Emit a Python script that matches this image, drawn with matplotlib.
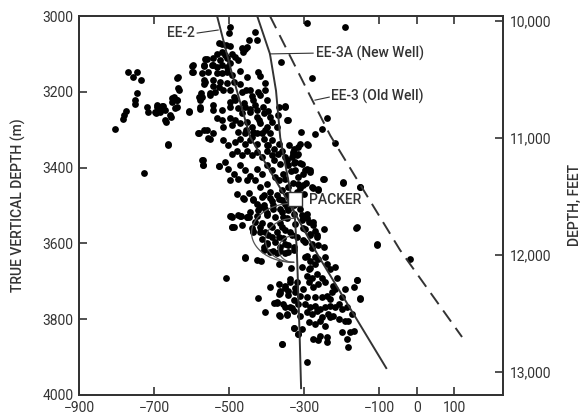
import matplotlib.pyplot as plt
import numpy as np

plt.rcParams['font.family'] = ['Roboto', 'DejaVu Sans']

# microseismic event locations: (horizontal offset m, true vertical depth m)
events_x = [
    -770, -746, -755, -735, -746, -752, -751, -775, -780, -784, -804, -726,
    -720, -715, -693, -675, -671, -695, -669, -653, -655, -640, -640, -640,
    -633, -607, -662, -577, -580, -568, -555, -571, -570, -526, -597, -600,
    -568, -564, -544, -567, -567, -579, -575, -542, -550,
    -500, -497, -431, -426, -446, -528, -520, -508, -497, -466, -457, -453,
    -462, -533, -520, -511, -493, -484, -542, -524, -506, -475, -560, -568,
    -546, -533, -520, -506, -497, -595, -600, -573, -555, -533, -520, -506,
    -493, -472, -453, -422, -417, -635, -542, -564, -524, -506, -488, -404,
    -635, -528, -515, -537, -551, -573, -577, -497, -488, -466, -444, -422,
    -404, -417, -399, -435, -648, -653, -640, -608, -577, -543, -542, -520,
    -497, -484, -497, -475, -457, -466, -444, -426, -426, -408, -391, -693,
    -680, -688, -697, -684, -671, -657, -644, -533, -520, -497, -484, -515,
    -493, -471, -453, -439, -417, -399, -386, -582, -560, -542, -475, -457,
    -435, -413,
    -662, -552, -570, -570, -526, -515, -502, -484, -471, -457, -444, -426,
    -408, -399, -386, -511, -493, -479, -466, -453, -439, -426, -413, -399,
    -386, -502, -488, -471, -457, -444, -426, -413, -399, -386, -377, -497,
    -475, -453, -431, -417, -399, -391, -408, -478, -460, -435, -426, -417,
    -404, -386, -382, -496, -471, -448, -426, -399, -491, -435, -417, -404,
    -386, -413, -399, -386, -408, -382,
    -293, -191, -361, -278, -368, -351, -370, -344, -240, -253, -271, -308,
    -373, -290, -315, -320, -311, -297, -284, -346, -351, -330, -328, -250,
    -195, -151, -277, -264,
    -217, -293, -311, -328, -315, -333, -324, -306, -293, -284, -302, -315,
    -324, -342, -351, -360, -368, -364, -355, -368, -248, -195, -280, -262,
    -151, -302, -315, -342, -360, -346, -368, -351, -364, -342, -355, -328,
    -311, -293, -306, -324, -288, -275, -297, -271, -248, -284, -266, -302,
    -280, -262, -248, -320, -337, -360, -368, -351, -328, -364, -342, -160,
    -106,
    -457, -415, -508, -391, -424, -380, -404, -497, -469, -491, -453, -435,
    -359, -373, -368, -346, -328, -315, -368, -350, -364, -337, -342, -328,
    -333, -350, -324,
    -335, -368, -293, -284, -271, -262, -244, -240, -231, -217, -213, -222,
    -217, -226, -288, -293, -280, -266, -253, -244, -262, -275, -288, -302,
    -320, -337, -351, -364, -342, -324, -311, -293, -271, -253, -240, -231,
    -208, -191, -168, -160, -151, -200, -368, -373, -355, -337, -315, -297,
    -284, -271, -257, -244, -231, -217, -200, -186, -173, -182, -364, -346,
    -328, -311, -293, -280, -266, -253, -235, -222, -208, -191, -328, -306,
    -288, -271, -257, -244, -231, -200, -177, -168, -186, -182, -315, -275,
    -262, -257, -240, -240, -360, -293,
    -161, -106, -17, -160, -151,
    # packed zone around the packer
    -462, -448, -435, -413, -391, -373, -360, -382, -408, -422, -444, -400,
    -377, -360, -346, -364, -391, -413, -431, -453, -475, -493, -488, -466,
    -440, -417, -395, -373, -351, -333, -355, -377, -400, -364, -342, -328,
    -351, -373, -391, -408, -457, -426, -306, -293, -275, -302, -284, -266,
    -297, -280, -297, -271, -306, -284, -328, -320, -345,
    # band between EE-2 and EE-3A
    -470, -455, -440, -460, -445, -430, -410, -395, -420, -405, -390, -455,
    -440, -425, -395, -380, -370, -380, -340, -330, -345, -335, -350, -330,
    -310, -320, -300, -295,
]
events_y = [
    3149, 3147, 3160, 3169, 3202, 3222, 3232, 3250, 3261, 3273, 3297, 3413,
    3239, 3253, 3239, 3238, 3248, 3257, 3279, 3217, 3266, 3222, 3239, 3163,
    3194, 3253, 3341, 3239, 3310, 3301, 3323, 3380, 3393, 3396, 3147, 3132,
    3132, 3114, 3129, 3169, 3180, 3213, 3204, 3185, 3204,
    3044, 3030, 3041, 3063, 3062, 3072, 3074, 3077, 3079, 3085, 3088, 3083,
    3094, 3099, 3094, 3103, 3099, 3107, 3112, 3116, 3112, 3116, 3114, 3129,
    3129, 3134, 3129, 3134, 3123, 3129, 3147, 3151, 3147, 3150, 3151, 3147,
    3156, 3144, 3160, 3147, 3158, 3162, 3169, 3173, 3173, 3178, 3173, 3178,
    3191, 3187, 3195, 3200, 3209, 3213, 3222, 3195, 3213, 3200, 3195, 3200,
    3195, 3209, 3222, 3222, 3215, 3226, 3222, 3250, 3246, 3235, 3248, 3248,
    3226, 3222, 3241, 3244, 3241, 3257, 3253, 3248, 3266, 3257, 3266, 3235,
    3238, 3244, 3252, 3252, 3275, 3261, 3244, 3270, 3275, 3270, 3275, 3292,
    3288, 3283, 3279, 3292, 3283, 3292, 3279, 3310, 3301, 3308, 3305, 3310,
    3305, 3310,
    3339, 3324, 3381, 3394, 3397, 3328, 3341, 3333, 3324, 3337, 3328, 3337,
    3324, 3341, 3328, 3385, 3363, 3355, 3368, 3355, 3368, 3359, 3372, 3355,
    3368, 3403, 3416, 3394, 3407, 3421, 3403, 3416, 3394, 3407, 3425, 3434,
    3429, 3434, 3434, 3451, 3443, 3465, 3473, 3469, 3482, 3482, 3495, 3504,
    3509, 3487, 3509, 3529, 3529, 3530, 3529, 3526, 3557, 3566, 3557, 3570,
    3557, 3588, 3601, 3583, 3610, 3619,
    3019, 3028, 3121, 3163, 3239, 3241, 3261, 3275, 3270, 3299, 3312, 3306,
    3292, 3341, 3345, 3367, 3389, 3407, 3411, 3275, 3238, 3363, 3389, 3429,
    3440, 3452, 3455, 3459,
    3335, 3337, 3337, 3350, 3363, 3372, 3385, 3390, 3403, 3407, 3416, 3425,
    3407, 3394, 3372, 3355, 3337, 3390, 3416, 3434, 3429, 3438, 3451, 3456,
    3451, 3447, 3443, 3451, 3460, 3473, 3482, 3495, 3508, 3513, 3530, 3522,
    3508, 3522, 3539, 3548, 3544, 3552, 3561, 3566, 3561, 3579, 3583, 3592,
    3601, 3605, 3610, 3583, 3570, 3557, 3583, 3601, 3610, 3619, 3623, 3557,
    3601,
    3639, 3647, 3691, 3716, 3744, 3756, 3782, 3528, 3528, 3558, 3530, 3569,
    3866, 3754, 3789, 3789, 3823, 3838, 3706, 3719, 3732, 3701, 3736, 3750,
    3771, 3767, 3719,
    3665, 3654, 3632, 3646, 3654, 3641, 3637, 3654, 3668, 3663, 3690, 3712,
    3720, 3729, 3668, 3685, 3690, 3681, 3690, 3703, 3707, 3716, 3703, 3720,
    3703, 3694, 3712, 3725, 3725, 3729, 3738, 3742, 3742, 3741, 3738, 3747,
    3760, 3720, 3716, 3697, 3744, 3742, 3734, 3756, 3760, 3769, 3760, 3760,
    3769, 3764, 3773, 3769, 3764, 3769, 3773, 3769, 3786, 3804, 3791, 3786,
    3778, 3791, 3782, 3786, 3778, 3795, 3786, 3791, 3800, 3804, 3822, 3826,
    3808, 3813, 3804, 3817, 3795, 3835, 3835, 3830, 3852, 3874, 3839, 3852,
    3855, 3844, 3848, 3861, 3866, 3914,
    3559, 3603, 3641, 3697, 3747,
    3481, 3468, 3486, 3477, 3481, 3472, 3486, 3499, 3499, 3512, 3516, 3521,
    3530, 3516, 3534, 3547, 3552, 3547, 3543, 3530, 3525, 3530, 3556, 3552,
    3560, 3569, 3578, 3569, 3565, 3578, 3587, 3596, 3600, 3609, 3604, 3618,
    3626, 3626, 3622, 3618, 3635, 3644, 3525, 3534, 3543, 3560, 3574, 3578,
    3596, 3613, 3635, 3635, 3662, 3666, 3499, 3464, 3505,
    3180, 3195, 3210, 3230, 3245, 3235, 3240, 3250, 3275, 3300, 3310, 3300,
    3320, 3310, 3340, 3350, 3365, 3380, 3340, 3360, 3380, 3410, 3430, 3440,
    3455, 3470, 3470, 3440,
]

# well trajectories (offset m, depth m)
ee2_x = [-532, -495, -444, -329, -265, -81]
ee2_y = [3000, 3142, 3319, 3512, 3628, 3929]
ee3a_x = [-425, -391, -375, -364, -337, -324, -319, -313, -308]
ee3a_y = [3000, 3100, 3195, 3319, 3459, 3538, 3628, 3802, 3982]
ee3_x = [-391, -311, -231, -44, 121]
ee3_y = [3000, 3158, 3314, 3618, 3847]

packer_x, packer_y = -325, 3484

xticks = [-900, -700, -500, -300, -100, 0, 100]
yticks = [3000, 3200, 3400, 3600, 3800, 4000]
ft_ticks = [10000, 11000, 12000, 13000]

ink = '#333333'
fig = plt.figure(figsize=(5.83, 4.17), dpi=100)
ax = fig.add_axes([0.1355, 0.0528, 0.7278, 0.9088])


def smooth(xs, ys, n=200):
    yy = np.linspace(ys[0], ys[-1], n)
    return np.interp(yy, ys, xs), yy


ax.scatter(events_x, events_y, s=24, color='black', linewidths=0, zorder=3)

# wells
for xs, ys in [(ee2_x, ee2_y), (ee3a_x, ee3a_y)]:
    ax.plot(*smooth(xs, ys), color=ink, lw=1.4, zorder=4)
ax.plot(*smooth(ee3_x, ee3_y), color=ink, lw=1.4, dashes=(7, 4), zorder=4)

# stimulated zone arcs left of the open hole
base_y = 3650
for rx, ry in [(112, 78), (75, 58), (40, 35)]:
    t = np.linspace(np.pi / 2, 3 * np.pi / 2, 80)
    ax.plot(-328 + rx * np.cos(t), base_y - ry + ry * np.sin(t),
            color='#555555', lw=0.9, zorder=4)

# packer
ax.scatter([packer_x], [packer_y], marker='s', s=100, facecolor='white',
           edgecolor=ink, linewidths=1.0, zorder=5)

lbl = dict(fontsize=10, color=ink, va='center', fontweight='medium')
ax.text(-287, 3486, 'PACKER', **lbl)

# well labels with leaders
ax.plot([-585, -529], [3045, 3037], color=ink, lw=0.8)
ax.text(-590, 3045, 'EE-2', ha='right', **lbl)
ax.plot([-391, -276], [3100, 3098], color=ink, lw=0.8)
ax.text(-268, 3098, 'EE-3A (New Well)', **lbl)
ax.plot([-271, -233], [3222, 3214], color=ink, lw=0.8)
ax.text(-228, 3212, 'EE-3 (Old Well)', **lbl)

ax.set_xlim(-900, 231)
ax.set_ylim(4000, 3000)
ax.set_xticks(xticks)
ax.set_yticks(yticks)
ax.set_ylabel('TRUE VERTICAL DEPTH (m)', fontsize=10, color=ink,
              fontweight='medium', labelpad=12)
ax.tick_params(direction='in', length=6, width=1.2, colors=ink,
               labelsize=10, top=True, pad=4)

ax2 = ax.twinx()
ax2.set_ylim(13194, 9960)
ax2.set_yticks(ft_ticks)
ax2.set_yticklabels([f'{v:,}' for v in ft_ticks])
ax2.set_ylabel('DEPTH, FEET', fontsize=10, color=ink, fontweight='medium',
               labelpad=12)
ax2.tick_params(direction='in', length=6, width=1.2, colors=ink,
                labelsize=10, pad=5)

for a in (ax, ax2):
    for sp in a.spines.values():
        sp.set_color(ink)
        sp.set_linewidth(1.3)

plt.savefig('out.png', dpi=100)
